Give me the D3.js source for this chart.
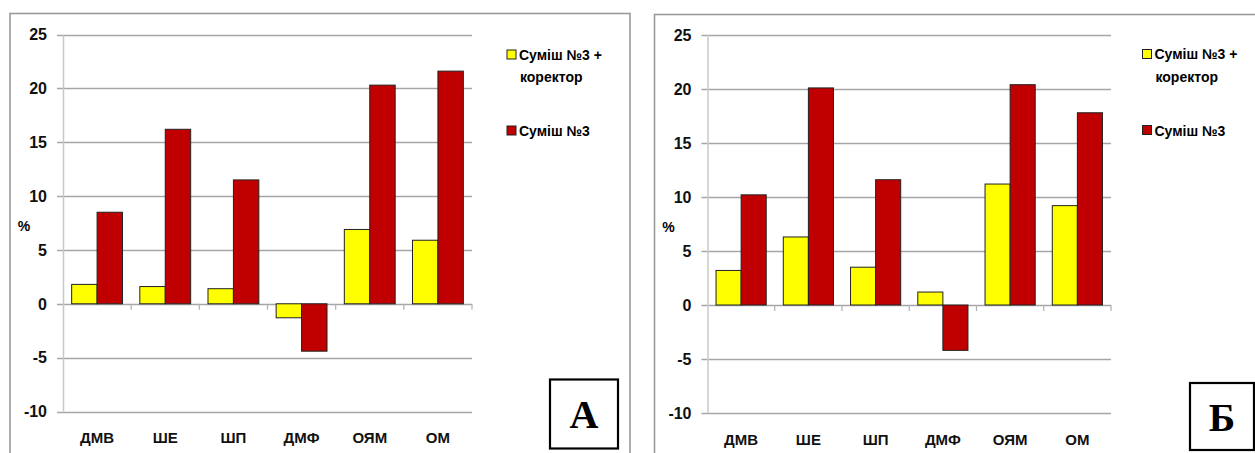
<!DOCTYPE html>
<html><head><meta charset="utf-8">
<script src="https://cdn.jsdelivr.net/npm/d3@7"></script>
<style>body{margin:0;background:#fff}svg{display:block}</style>
</head><body>
<script>
const categories = ["ДМВ","ШЕ","ШП","ДМФ","ОЯМ","ОМ"];
const seriesNames = ["Суміш №3 + коректор","Суміш №3"];
const yTicks = [-10,-5,0,5,10,15,20,25];
const panelA_corrector = [1.8,1.6,1.4,-1.3,6.9,5.9];
const panelA_mix3 = [8.5,16.2,11.5,-4.4,20.3,21.6];
const panelB_corrector = [3.2,6.3,3.5,1.2,11.2,9.2];
const panelB_mix3 = [10.2,20.1,11.6,-4.2,20.4,17.8];
const panelLabels = ["А","Б"];
const colors = ["#FFFF00","#C00000"];

const W=1255,H=453;
const svg=d3.select("body").append("svg").attr("width",W).attr("height",H);
const sf="Liberation Sans, Arial, sans-serif";

function panel(o){
  const g=svg.append("g");
  g.append("rect").attr("x",o.fx).attr("y",o.fy).attr("width",o.fw).attr("height",o.fh)
    .attr("fill","none").attr("stroke","#9a9a9a").attr("stroke-width",1.6);
  const y=d3.scaleLinear().domain([-10,25]).range([o.y1,o.y0]);
  const x=d3.scaleBand().domain(categories).range([o.x0,o.x1]).paddingInner(0.254).paddingOuter(0.127);
  const xs=d3.scaleBand().domain([0,1]).range([0,x.bandwidth()]);
  g.append("g").selectAll("line").data(yTicks).join("line")
    .attr("x1",o.x0-6).attr("x2",o.x1).attr("y1",d=>Math.round(y(d))+0.5).attr("y2",d=>Math.round(y(d))+0.5)
    .attr("stroke","#a6a6a6").attr("stroke-width",1.3);
  g.append("line").attr("x1",o.x0+0.5).attr("x2",o.x0+0.5).attr("y1",y(25)).attr("y2",y(-10))
    .attr("stroke","#c8c8c8").attr("stroke-width",1.5);
  g.append("g").selectAll("text").data(yTicks).join("text")
    .attr("x",o.x0-16).attr("y",d=>y(d)).attr("dy","0.36em").attr("text-anchor","end")
    .attr("font-family",sf).attr("font-size",16).attr("font-weight","bold")
    .attr("fill","#111").text(d=>d);
  const step=(o.x1-o.x0)/categories.length;
  g.append("g").selectAll("line").data(d3.range(1,categories.length+1)).join("line")
    .attr("x1",i=>o.x0+i*step).attr("x2",i=>o.x0+i*step).attr("y1",y(0)).attr("y2",y(0)+6)
    .attr("stroke","#b0b0b0").attr("stroke-width",1.2);
  [o.s0,o.s1].forEach((vals,si)=>{
    g.append("g").selectAll("rect").data(vals).join("rect")
      .attr("x",(d,i)=>x(categories[i])+xs(si))
      .attr("width",xs.bandwidth())
      .attr("y",d=>y(Math.max(0,d)))
      .attr("height",d=>Math.abs(y(d)-y(0)))
      .attr("fill",colors[si]).attr("stroke","#222").attr("stroke-width",1);
  });
  g.append("g").selectAll("text").data(categories).join("text")
    .attr("x",d=>x(d)+x.bandwidth()/2).attr("y",o.y1+31.5).attr("text-anchor","middle")
    .attr("font-family",sf).attr("font-size",15).attr("font-weight","bold")
    .attr("fill","#111").text(d=>d);
  g.append("text").attr("x",o.x0-39).attr("y",y(7.2)).attr("text-anchor","middle").attr("dy","0.35em")
    .attr("font-family",sf).attr("font-size",14).attr("font-weight","bold").text("%");
  g.append("rect").attr("x",o.lx).attr("y",o.ly).attr("width",9).attr("height",9).attr("fill",colors[0]).attr("stroke","#222");
  g.append("text").attr("x",o.lx+12).attr("y",o.ly+9.5).attr("font-family",sf).attr("font-size",14).attr("font-weight","bold").text("Суміш №3 +");
  g.append("text").attr("x",o.lx+13).attr("y",o.ly+32).attr("font-family",sf).attr("font-size",14).attr("font-weight","bold").text("коректор");
  g.append("rect").attr("x",o.lx).attr("y",o.ly+76).attr("width",9).attr("height",9).attr("fill",colors[1]).attr("stroke","#222");
  g.append("text").attr("x",o.lx+12).attr("y",o.ly+86).attr("font-family",sf).attr("font-size",14).attr("font-weight","bold").text("Суміш №3");
  g.append("rect").attr("x",o.bx).attr("y",o.by).attr("width",o.bw).attr("height",o.bh).attr("fill","#fff").attr("stroke","#000").attr("stroke-width",2.2);
  g.append("text").attr("x",o.bx+o.bw/2).attr("y",o.by+o.bh/2+14).attr("text-anchor","middle")
    .attr("font-family","Liberation Serif, Times New Roman, serif").attr("font-size",40).attr("font-weight","bold").text(o.label);
}

panel({fx:10,fy:13.5,fw:620,fh:460,x0:63,x1:472,y0:34.5,y1:411.5,s0:panelA_corrector,s1:panelA_mix3,
  lx:507,ly:50,bx:550,by:379.5,bw:68,bh:69,label:panelLabels[0]});
panel({fx:654.5,fy:14.5,fw:620,fh:460,x0:707.5,x1:1111,y0:35,y1:413,s0:panelB_corrector,s1:panelB_mix3,
  lx:1142.5,ly:49.5,bx:1190,by:383,bw:64,bh:67,label:panelLabels[1]});
</script>
</body></html>
